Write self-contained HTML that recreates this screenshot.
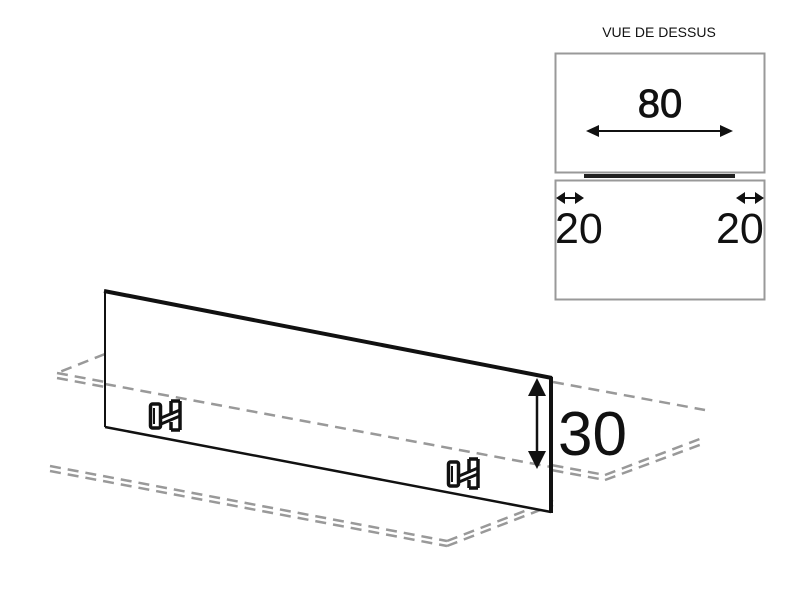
<!DOCTYPE html>
<html><head><meta charset="utf-8"><style>
html,body{margin:0;padding:0;background:#fff;}
svg{display:block;}
</style></head><body>
<svg width="800" height="600" viewBox="0 0 800 600" xmlns="http://www.w3.org/2000/svg">
<defs>
<g id="br">
 <rect x="1.5" y="4" width="10" height="24" rx="2" fill="#fff" stroke="#111" stroke-width="3.5"/>
 <line x1="5" y1="8" x2="5" y2="24" stroke="#111" stroke-width="2"/>
 <path d="M22 1 L22 15 M31 1 L31 30 M22 22 L22 30 M22 1 L31 1 M22 30 L31 30" stroke="#111" stroke-width="3.5" fill="none"/>
 <path d="M12 18 L31 10 M12 24 L31 16" stroke="#111" stroke-width="3" fill="none"/>
</g>
</defs>
<!-- top view -->
<text x="659" y="37" font-family="Liberation Sans, sans-serif" font-size="14" text-anchor="middle" fill="#111">VUE DE DESSUS</text>
<rect x="555.5" y="53.5" width="209" height="119" fill="none" stroke="#999" stroke-width="2"/>
<rect x="555.5" y="180.5" width="209" height="119" fill="none" stroke="#999" stroke-width="2"/>
<text x="660" y="117" font-family="Liberation Sans, sans-serif" font-size="40" text-anchor="middle" fill="#111" stroke="#111" stroke-width="0.8">80</text>
<line x1="596" y1="131" x2="723" y2="131" stroke="#111" stroke-width="2"/>
<path d="M586 131 L599 125 L599 137 Z M733 131 L720 125 L720 137 Z" fill="#111"/>
<rect x="584" y="174" width="151" height="4" fill="#222"/>
<line x1="563" y1="198" x2="577" y2="198" stroke="#111" stroke-width="2"/>
<path d="M556 198 L565 192 L565 204 Z M584 198 L575 192 L575 204 Z" fill="#111"/>
<line x1="743" y1="198" x2="757" y2="198" stroke="#111" stroke-width="2"/>
<path d="M736 198 L745 192 L745 204 Z M764 198 L755 192 L755 204 Z" fill="#111"/>
<text x="555" y="243" font-family="Liberation Sans, sans-serif" font-size="43" fill="#111">20</text>
<text x="716" y="243" font-family="Liberation Sans, sans-serif" font-size="43" fill="#111">20</text>
<!-- dashed table outlines -->
<g stroke="#999" stroke-width="2.5" stroke-dasharray="11,7" fill="none">
 <line x1="105" y1="354" x2="57" y2="373"/>
 <line x1="57" y1="373" x2="605" y2="475"/>
 <line x1="57" y1="378" x2="605" y2="480"/>
 <line x1="553" y1="382" x2="705" y2="410"/>
 <line x1="605" y1="475" x2="705" y2="437"/>
 <line x1="605" y1="480" x2="705" y2="443"/>
 <line x1="50" y1="466" x2="447" y2="541"/>
 <line x1="50" y1="471" x2="447" y2="546"/>
 <line x1="447" y1="541" x2="553" y2="500"/>
 <line x1="447" y1="546" x2="553" y2="505"/>
</g>
<!-- panel -->
<polygon points="105,291 551,378 551,512 105,427" fill="#fff"/>
<g stroke="#999" stroke-width="2.5" stroke-dasharray="11,7" fill="none">
 <line x1="105" y1="384" x2="551" y2="467"/>
</g>
<line x1="105" y1="291" x2="105" y2="427" stroke="#111" stroke-width="2"/>
<line x1="105" y1="427" x2="551" y2="512" stroke="#111" stroke-width="2.5"/>
<line x1="104" y1="291" x2="552" y2="378" stroke="#111" stroke-width="4"/>
<line x1="551" y1="377" x2="551" y2="513" stroke="#111" stroke-width="4"/>
<use href="#br" x="149" y="400"/>
<use href="#br" x="447" y="458"/>
<!-- 30 dimension -->
<line x1="537" y1="392" x2="537" y2="455" stroke="#111" stroke-width="2.5"/>
<path d="M537 378 L528 396 L546 396 Z M537 469 L528 451 L546 451 Z" fill="#111"/>
<text x="558" y="455" font-family="Liberation Sans, sans-serif" font-size="62" fill="#111">30</text>
</svg>
</body></html>
